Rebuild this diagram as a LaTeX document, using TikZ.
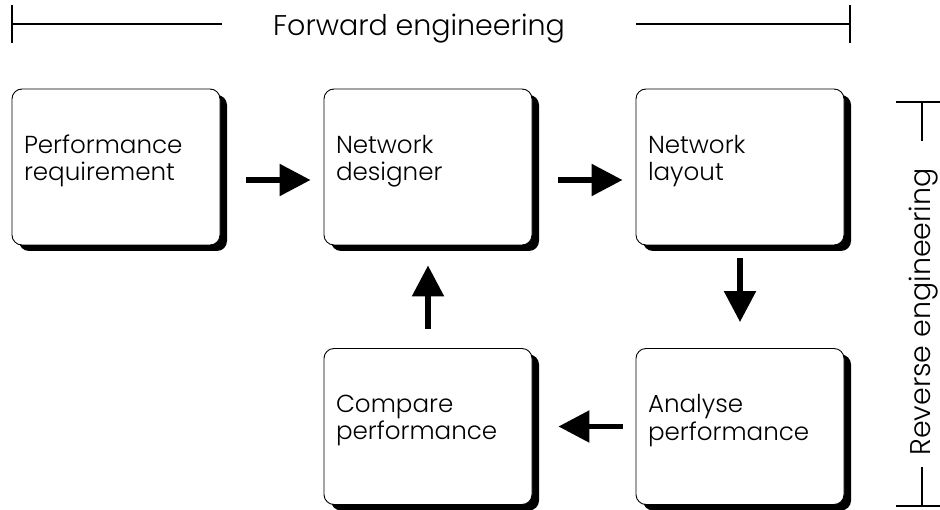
\documentclass[tikz,border=0pt]{standalone}
\usepackage{fontspec}
\setmainfont{Poppins}[UprightFont={* Light}]
\usetikzlibrary{arrows.meta,shadows,calc}
\begin{document}
\begin{tikzpicture}[x=1pt,y=-1pt,
  stagebox/.style={draw, line width=0.9pt, rounded corners=10pt, fill=white,
    minimum width=208pt, minimum height=156pt, inner xsep=12pt, inner ysep=0pt,
    text width=184pt, text depth=46pt, align=left,
    font=\fontsize{24.6}{27.5}\selectfont,
    drop shadow={shadow xshift=7pt, shadow yshift=-6pt, fill=black, opacity=1}},
  flow/.style={line width=5.5pt, -{Triangle[length=31pt,width=31pt]}},
  bracket/.style={line width=1.1pt},
  caption/.style={font=\fontsize{28.5}{32}\selectfont, anchor=base}
]
\useasboundingbox (0,0) rectangle (940,510);

% process stages
\node[stagebox] (perf)     at (116,167)   {Performance\\requirement};
\node[stagebox] (designer) at (428,167)   {Network\\designer};
\node[stagebox] (layout)   at (740,167)   {Network\\layout};
\node[stagebox] (compare)  at (428,426.5) {Compare\\performance};
\node[stagebox] (analyse)  at (740,426.5) {Analyse\\performance};

% flow between stages
\draw[flow] ($(perf.east)+(26,13)$) -- ($(designer.west)+(-13,13)$);
\draw[flow] ($(designer.east)+(26,13)$) -- ($(layout.west)+(-13,13)$);
\draw[flow] ($(layout.south)+(0,13)$) -- ($(analyse.north)+(0,-26)$);
\draw[flow] ($(analyse.west)+(-13,0)$) -- ($(compare.east)+(26,0)$);
\draw[flow] ($(compare.north)+(0,-19)$) -- ($(designer.south)+(0,20)$);

% forward engineering span
\node[caption] (fwd) at (419,36) {Forward engineering};
\draw[bracket] (12,5) -- (12,43);
\draw[bracket] (12,24) -- (222,24);
\draw[bracket] (636,24) -- (850,24);
\draw[bracket] (850,5) -- (850,43);

% reverse engineering span
\node[caption, rotate=90] (rev) at (930,312) {Reverse engineering};
\draw[bracket] (896,102) -- (940,102);
\draw[bracket] (922,102) -- (922,141);
\draw[bracket] (922,467) -- (922,506);
\draw[bracket] (896,506) -- (940,506);
\end{tikzpicture}
\end{document}
